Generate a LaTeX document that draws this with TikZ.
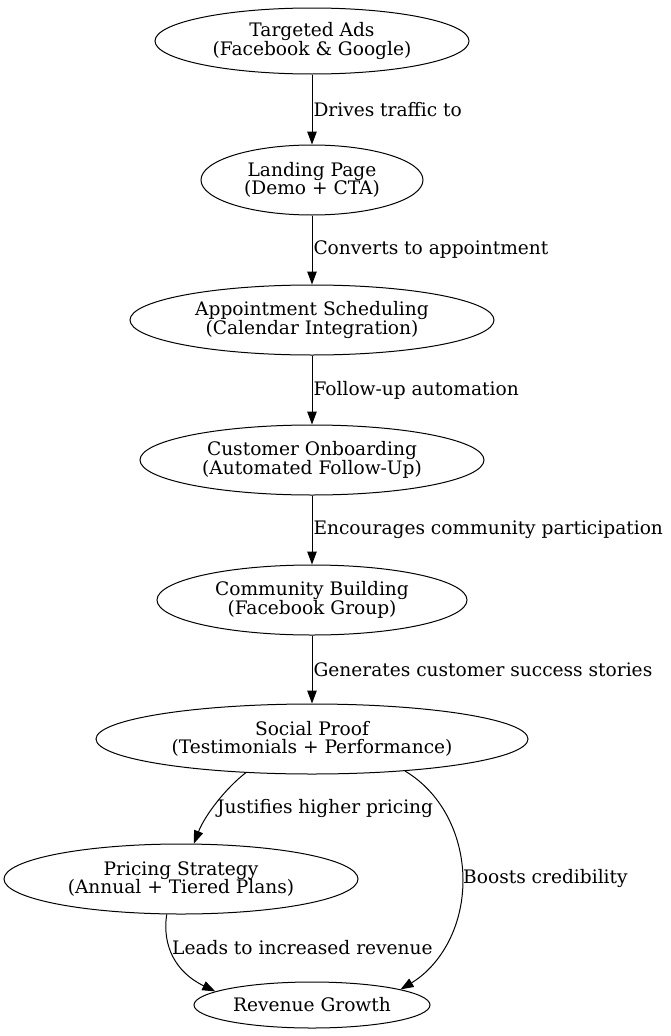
\documentclass[tikz,border=0pt]{standalone}
\usepackage{fontspec}
\setmainfont{DejaVu Serif}
\usetikzlibrary{shapes.geometric,arrows.meta,positioning}
\tikzset{
    flowNode/.style={
        ellipse,
        draw,
        line width=1pt,
        inner sep=0pt,
        align=center,
        font=\fontsize{18.6}{18.5}\selectfont
    },
    % Connectors
    flowEdge/.style={-{Triangle[length=13pt,width=9.5pt]}, line width=1pt, draw=black},
    flowLabel/.style={
        font=\fontsize{18.6}{18.5}\selectfont,
        inner sep=1pt,
        anchor=west
    }
}

\begin{document}
\begin{tikzpicture}[x=1pt, y=-1pt]
\useasboundingbox (0,0) rectangle (671,1036);
\node[flowNode, minimum width=314pt, minimum height=66pt] (ads) at (312,41) {Targeted Ads\\(Facebook \& Google)};
\node[flowNode, minimum width=222pt, minimum height=70pt] (landing) at (312,180) {Landing Page\\(Demo + CTA)};
\node[flowNode, minimum width=364pt, minimum height=70pt] (scheduling) at (312,320) {Appointment Scheduling\\(Calendar Integration)};
\node[flowNode, minimum width=344pt, minimum height=70pt] (onboarding) at (312,460) {Customer Onboarding\\(Automated Follow-Up)};
\node[flowNode, minimum width=310pt, minimum height=70pt] (community) at (312,600) {Community Building\\(Facebook Group)};
\node[flowNode, minimum width=432pt, minimum height=70pt] (proof) at (312,739) {Social Proof\\(Testimonials + Performance)};
\node[flowNode, minimum width=354pt, minimum height=70pt] (pricing) at (181,879) {Pricing Strategy\\(Annual + Tiered Plans)};
\node[flowNode, minimum width=236pt, minimum height=46pt] (revenue) at (312,1005) {Revenue Growth};

\draw[flowEdge] (ads) -- (landing) node[flowLabel, midway] {Drives traffic to};
\draw[flowEdge] (landing) -- (scheduling) node[flowLabel, midway] {Converts to appointment};
\draw[flowEdge] (scheduling) -- (onboarding) node[flowLabel, midway] {Follow-up automation};
\draw[flowEdge] (onboarding) -- (community) node[flowLabel, midway] {Encourages community participation};
\draw[flowEdge] (community) -- (proof) node[flowLabel, midway] {Generates customer success stories};

% Branches below social proof
\draw[flowEdge] (proof.-153) .. controls (226,788) and (205,815) .. (pricing.70);
\node[flowLabel] (justifies) at (216,808) {Justifies higher pricing};
\draw[flowEdge] (proof.-19) .. controls (445,795) and (463,840) .. (463,880) .. controls (463,930) and (438,967) .. (revenue.10);
\node[flowLabel] (boosts) at (462,878) {Boosts credibility};
\draw[flowEdge] (pricing.-112) .. controls (162,945) and (175,972) .. (revenue.172);
\node[flowLabel] (leads) at (171,948) {Leads to increased revenue};
\end{tikzpicture}
\end{document}
